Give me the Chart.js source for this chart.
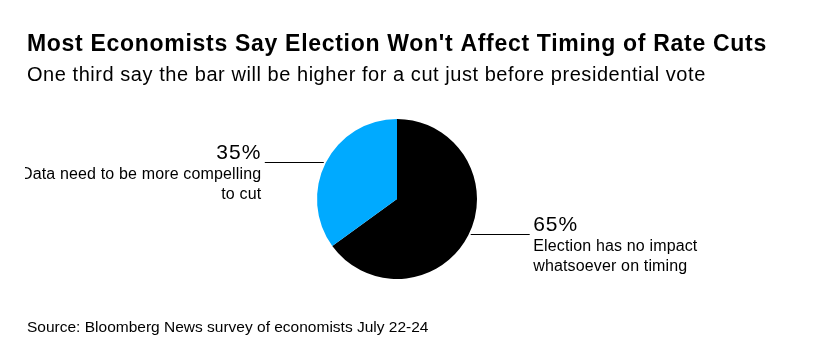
<!DOCTYPE html>
<html lang="en">
<head>
    <meta charset="UTF-8">
    <title>Election and rate cuts</title>
    <script src="https://cdn.jsdelivr.net/npm/chart.js"></script>
    <style>
      body { margin: 0; background: #fff; }
      #wrap { width: 823px; height: 360px; }
    </style>
</head>
<body>
      <div id="wrap">
        <canvas id="myChart"></canvas>
      </div>

      <script>
        const ctx = document.getElementById('myChart');

        // data
        let categorias = ['Election has no impact whatsoever on timing', 'Data need to be more compelling to cut']
        let valores = [65, 35]
        let cores = ['#000000', '#00AAFF']
        let rotulos = [
          ['Election has no impact', 'whatsoever on timing'],
          ['Data need to be more compelling', 'to cut']
        ]

        const titulo = "Most Economists Say Election Won't Affect Timing of Rate Cuts"
        const subtitulo = 'One third say the bar will be higher for a cut just before presidential vote'
        const fonte = 'Source: Bloomberg News survey of economists July 22-24'
        const familia = '"Liberation Sans", Arial, Helvetica, sans-serif'

        // text + leader lines
        const anotacoes = {
          id: 'anotacoes',
          afterDraw(chart) {
            const c = chart.ctx
            c.save()
            c.fillStyle = '#000'
            c.textBaseline = 'alphabetic'
            c.textAlign = 'left'
            c.font = 'bold 23px ' + familia
            c.letterSpacing = '0.7px'
            c.fillText(titulo, 27, 51)
            c.font = '20px ' + familia
            c.letterSpacing = '0.55px'
            c.fillText(subtitulo, 27, 81)
            c.font = '15.5px ' + familia
            c.letterSpacing = '0px'
            c.fillText(fonte, 27, 332)

            // the reference cuts the left label at its edge
            c.beginPath()
            c.rect(25, 0, chart.width - 25, chart.height)
            c.clip()

            const meta = chart.getDatasetMeta(0)
            meta.data.forEach((arc, i) => {
              const meio = (arc.startAngle + arc.endAngle) / 2
              const y0 = Math.round(arc.y + Math.sin(meio) * arc.outerRadius) - 0.5
              const lado = Math.cos(meio) >= 0 ? 1 : -1
              // start the line just outside the pie edge at that height
              const dy = y0 - arc.y
              const x0 = arc.x + lado * (Math.sqrt(arc.outerRadius ** 2 - dy * dy) + 2)
              const x1 = x0 + lado * 59
              c.strokeStyle = '#000'
              c.lineWidth = 1
              c.beginPath()
              c.moveTo(x0, y0)
              c.lineTo(x1, y0)
              c.stroke()

              const tx = x1 + lado * 3.5
              c.textAlign = lado > 0 ? 'left' : 'right'
              c.font = '21px ' + familia
              c.letterSpacing = '1px'
              c.fillText(valores[i] + '%', tx, y0 - 3.5)
              c.font = '16px ' + familia
              c.letterSpacing = '0.15px'
              rotulos[i].forEach((linha, k) => {
                c.fillText(linha, tx, y0 + 16.5 + k * 19.5)
              })
            })
            c.restore()
          }
        }

        let grafico1 = new Chart(ctx, {
          type: 'pie',
          data: {
            labels: categorias,
            datasets: [{
              data: valores,
              backgroundColor: cores,
              borderWidth: 0
            }]
          },
          options: {
            responsive: true,
            maintainAspectRatio: false,
            animation: false,
            layout: {
              padding: { left: 317, right: 346, top: 119, bottom: 81 }
            },
            plugins: {
              legend: { display: false },
              tooltip: { enabled: false }
            }
          },
          plugins: [anotacoes]
        });
      </script>

</body>
</html>
